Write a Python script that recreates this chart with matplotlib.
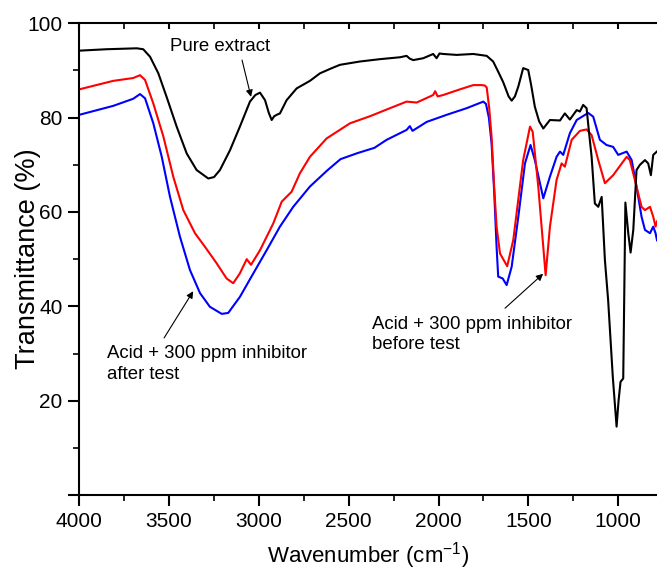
import matplotlib
matplotlib.use("Agg")
import matplotlib.pyplot as plt
from matplotlib.ticker import MultipleLocator, FuncFormatter

plt.rcParams['font.family'] = ['Liberation Sans', 'DejaVu Sans']
plt.rcParams['mathtext.default'] = 'regular'

# pure extract (black)
black_wn = [4000, 3850, 3680, 3644, 3606, 3560, 3514, 3458, 3402, 3347, 3282, 3250, 3217, 3161,
            3106, 3050, 3020, 2994, 2966, 2945, 2929, 2915, 2901, 2883, 2846, 2790, 2716, 2660,
            2600, 2549, 2438, 2326, 2215, 2178, 2160, 2141, 2085, 2030, 2011, 1995, 1974, 1899,
            1807, 1732, 1696, 1665, 1640, 1610, 1593, 1575, 1556, 1529, 1501, 1485, 1464, 1440,
            1417, 1380, 1324, 1297, 1269, 1231, 1213, 1195, 1176, 1160, 1148, 1130, 1111, 1092,
            1074, 1056, 1030, 1009, 998, 987, 972, 960, 944, 931, 916, 898, 879, 851, 833, 818,
            805, 785]
black_t = [94.2, 94.5, 94.7, 94.5, 92.9, 89.4, 84.4, 78.1, 72.4, 68.9, 67.1, 67.4, 68.9, 73.1,
           78.1, 83.4, 84.8, 85.3, 83.7, 81.0, 79.5, 80.3, 80.6, 80.9, 83.7, 86.2, 87.8, 89.4,
           90.4, 91.2, 91.9, 92.4, 92.8, 93.1, 92.5, 92.2, 92.6, 93.5, 92.6, 93.6, 93.5, 93.3,
           93.5, 93.1, 91.9, 89.5, 87.5, 84.5, 83.6, 84.5, 86.6, 90.5, 90.1, 87.0, 82.3, 79.2,
           77.7, 79.5, 79.4, 80.9, 79.6, 81.6, 81.3, 82.7, 82.0, 76.0, 71.7, 61.8, 61.1, 63.2,
           49.8, 41.3, 25.0, 14.5, 20.0, 24.0, 24.7, 62.0, 55.5, 51.4, 56.2, 68.9, 70.0, 71.0,
           70.3, 67.8, 72.1, 72.8]

# acid + 300 ppm inhibitor before test (red)
red_wn = [4000, 3811, 3700, 3662, 3634, 3588, 3532, 3477, 3421, 3356, 3300, 3235, 3180, 3143,
          3106, 3068, 3044, 2994, 2920, 2873, 2818, 2772, 2716, 2623, 2493, 2382, 2271, 2178,
          2122, 2030, 2019, 2005, 1974, 1881, 1807, 1760, 1742, 1732, 1718, 1705, 1690, 1677,
          1658, 1618, 1584, 1529, 1491, 1476, 1445, 1404, 1380, 1343, 1315, 1297, 1259, 1213,
          1176, 1148, 1111, 1074, 1028, 953, 935, 898, 870, 851, 823, 805, 792, 784]
red_t = [86.0, 87.8, 88.4, 89.0, 88.0, 83.0, 76.0, 67.5, 60.4, 55.5, 52.6, 49.1, 45.9, 44.9,
         47.0, 50.0, 48.8, 51.9, 57.6, 62.2, 64.3, 68.2, 71.7, 75.6, 78.8, 80.3, 82.0, 83.4,
         83.2, 84.8, 85.6, 84.5, 84.8, 86.0, 86.9, 86.9, 86.8, 86.4, 82.0, 76.0, 65.0, 56.9,
         51.2, 48.5, 54.1, 71.0, 78.1, 77.0, 65.4, 46.6, 56.9, 66.8, 70.3, 69.6, 75.3, 77.2,
         77.5, 76.3, 71.0, 66.1, 67.8, 71.7, 71.0, 65.4, 61.1, 60.4, 61.1, 59.0, 56.9, 58.0]

# acid + 300 ppm inhibitor after test (blue)
blue_wn = [4000, 3811, 3700, 3662, 3634, 3588, 3541, 3495, 3440, 3384, 3328, 3273, 3207, 3171,
           3106, 3031, 2957, 2883, 2809, 2716, 2620, 2546, 2450, 2357, 2289, 2178, 2160, 2145,
           2066, 1955, 1844, 1751, 1736, 1720, 1705, 1690, 1677, 1668, 1643, 1621, 1593, 1556,
           1519, 1488, 1464, 1417, 1380, 1343, 1324, 1306, 1269, 1231, 1167, 1139, 1102, 1065,
           1028, 1000, 953, 925, 898, 870, 851, 823, 805, 792, 784]
blue_t = [80.6, 82.5, 84.0, 85.0, 84.1, 78.8, 71.7, 63.2, 54.8, 47.7, 42.8, 39.9, 38.4, 38.6,
          42.0, 47.0, 51.9, 56.9, 61.1, 65.4, 68.8, 71.2, 72.5, 73.6, 75.3, 77.4, 78.2, 77.2,
          79.1, 80.6, 82.0, 83.4, 82.9, 80.0, 74.6, 64.0, 52.6, 46.3, 45.9, 44.5, 48.4, 59.0,
          70.3, 74.2, 71.0, 62.9, 67.5, 71.7, 72.8, 72.1, 76.7, 79.5, 81.0, 80.2, 75.3, 74.2,
          73.8, 72.1, 72.8, 71.0, 65.4, 59.0, 56.2, 55.5, 56.9, 55.5, 54.0]

fig = plt.figure(figsize=(6.57, 5.74), dpi=100)
ax = fig.add_axes([0.1207, 0.1376, 0.8793, 0.8218])

ax.plot(blue_wn, blue_t, color='#0000ff', lw=1.5)
ax.plot(red_wn, red_t, color='#ff0000', lw=1.5)
ax.plot(black_wn, black_t, color='black', lw=1.5)

ax.set_xlim(4000, 784)
ax.set_ylim(0, 100)

ax.xaxis.set_major_locator(MultipleLocator(500))
ax.xaxis.set_minor_locator(MultipleLocator(250))
ax.yaxis.set_major_locator(MultipleLocator(20))
ax.yaxis.set_minor_locator(MultipleLocator(10))
ax.yaxis.set_major_formatter(FuncFormatter(lambda v, p: '' if v == 0 else '%d' % v))

for s in ['left', 'bottom', 'top']:
    ax.spines[s].set_linewidth(1.5)
ax.spines['right'].set_visible(False)

ax.tick_params(which='major', direction='out', length=8, width=1.5, labelsize=15, pad=4)
ax.tick_params(which='minor', direction='out', length=4, width=1.2)
ax.tick_params(axis='x', which='both', top=True, labeltop=False)
# top ticks point inward
for t in ax.xaxis.get_major_ticks() + ax.xaxis.get_minor_ticks():
    t.tick2line.set_markersize(4)
    t.tick2line.set_marker(3)

ax.set_xlabel('Wavenumber (cm$^{-1}$)', fontsize=16)
ax.xaxis.set_label_coords(0.5, -0.095)
ax.set_ylabel('Transmittance (%)', fontsize=19.5)
ax.yaxis.set_label_coords(-0.066, 0.5)

arrow = dict(arrowstyle='-|>', color='black', lw=0.8, mutation_scale=10, shrinkA=0, shrinkB=0)
ax.text(3217, 95.0, 'Pure extract', fontsize=13.4, ha='center', va='center')
ax.annotate('', xy=(3044, 84.4), xytext=(3094, 92.2), arrowprops=arrow)
ax.text(3846, 27.8, 'Acid + 300 ppm inhibitor\nafter test', fontsize=13.4,
        ha='left', va='center', linespacing=1.25)
ax.annotate('', xy=(3366, 43.2), xytext=(3528, 33.3), arrowprops=arrow)
ax.text(2371, 34.1, 'Acid + 300 ppm inhibitor\nbefore test', fontsize=13.4,
        ha='left', va='center', linespacing=1.25)
ax.annotate('', xy=(1418, 46.9), xytext=(1630, 39.6), arrowprops=arrow)

fig.savefig('out.png', dpi=100)
